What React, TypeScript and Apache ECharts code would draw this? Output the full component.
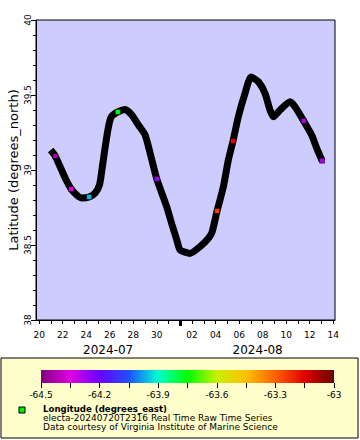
import React, { useEffect, useRef } from 'react';
import * as echarts from 'echarts';

// Glider track (time, latitude)
const trackTimes = [
  '2024-07-20T23:30:00Z', '2024-07-21T08:40:00Z', '2024-07-21T19:00:00Z', '2024-07-22T05:00:00Z',
  '2024-07-22T17:20:00Z', '2024-07-23T04:50:00Z', '2024-07-23T15:00:00Z', '2024-07-24T06:00:00Z',
  '2024-07-24T18:15:00Z', '2024-07-25T03:00:00Z', '2024-07-25T08:00:00Z', '2024-07-25T14:40:00Z',
  '2024-07-25T21:20:00Z', '2024-07-26T02:50:00Z', '2024-07-26T16:30:00Z', '2024-07-27T07:30:00Z',
  '2024-07-27T21:00:00Z', '2024-07-28T10:30:00Z', '2024-07-29T00:15:00Z', '2024-07-29T10:20:00Z',
  '2024-07-30T00:00:00Z', '2024-07-30T20:25:00Z', '2024-07-31T07:15:00Z', '2024-07-31T16:50:00Z',
  '2024-07-31T23:30:00Z', '2024-08-01T20:00:00Z', '2024-08-02T16:20:00Z', '2024-08-03T09:20:00Z',
  '2024-08-03T16:50:00Z', '2024-08-04T03:00:00Z', '2024-08-04T15:50:00Z', '2024-08-05T02:00:00Z',
  '2024-08-05T11:30:00Z', '2024-08-05T22:20:00Z', '2024-08-06T12:00:00Z', '2024-08-07T00:15:00Z',
  '2024-08-07T15:10:00Z', '2024-08-08T04:50:00Z', '2024-08-08T15:00:00Z', '2024-08-08T21:50:00Z',
  '2024-08-09T11:30:00Z', '2024-08-10T07:50:00Z', '2024-08-10T18:00:00Z', '2024-08-11T11:45:00Z',
  '2024-08-12T04:00:00Z', '2024-08-12T14:20:00Z', '2024-08-13T01:10:00Z',
];
const trackLats = [
  39.133, 39.093, 39.02, 38.947,
  38.873, 38.833, 38.813, 38.82,
  38.847, 38.9, 39.0, 39.153,
  39.287, 39.353, 39.387, 39.403,
  39.367, 39.3, 39.233, 39.113,
  38.94, 38.753, 38.633, 38.533,
  38.467, 38.444, 38.489, 38.545,
  38.587, 38.727, 38.889, 39.067,
  39.193, 39.355, 39.511, 39.62,
  39.589, 39.511, 39.4, 39.355,
  39.4, 39.455, 39.422, 39.327,
  39.233, 39.145, 39.062,
];

// Coloured samples (time, latitude, longitude)
const markerTimes = [
  '2024-07-21T08:40:00Z', '2024-07-22T17:20:00Z', '2024-07-24T06:00:00Z', '2024-07-26T16:30:00Z',
  '2024-07-30T00:00:00Z', '2024-08-04T03:00:00Z', '2024-08-05T11:30:00Z', '2024-08-11T11:45:00Z',
  '2024-08-13T01:10:00Z',
];
const markerLats = [39.093, 38.873, 38.82, 39.387, 38.94, 38.727, 39.193, 39.327, 39.062];
const markerLons = [-64.45, -64.35, -63.96, -63.75, -64.27, -63.25, -63.15, -64.29, -64.28];

// Axis / tick definitions
const latMin = 38;
const latMax = 40;
const latStep = 0.5;
const lonMin = -64.5;
const lonMax = -63;
const lonStep = 0.3;
const dayLabelDates = [
  '2024-07-20', '2024-07-22', '2024-07-24', '2024-07-26', '2024-07-28', '2024-07-30',
  '2024-08-02', '2024-08-04', '2024-08-06', '2024-08-08', '2024-08-10', '2024-08-12', '2024-08-14',
];
const monthBoundary = '2024-08-01';
const paletteColors = [
  '#800080', '#e000e0', '#6a00ff', '#2050ff', '#00ffd0', '#00ff00',
  '#c8f000', '#ffc000', '#ff6000', '#e00000', '#680000',
];
const yTitle = 'Latitude (degrees_north)';
const legendTitle = 'Longitude (degrees_east)';
const legendLine2 = 'electa-20240720T2316 Real Time Raw Time Series';
const legendLine3 = 'Data courtesy of Virginia Institute of Marine Science';

const DAY = 86400000;
const T0 = Date.UTC(2024, 6, 20);
const X_MIN = T0 - 0.27 * DAY;
const X_MAX = T0 + 25.15 * DAY;

const pad2 = (n: number) => String(n).padStart(2, '0');
const parseDay = (s: string) => Date.parse(s + 'T00:00:00Z');

export default function App() {
  const ref = useRef<HTMLDivElement>(null);

  useEffect(() => {
    if (!ref.current) return;
    const chart = echarts.init(ref.current, null, { renderer: 'svg' });

    const track = trackTimes.map((t, i) => [Date.parse(t), trackLats[i]]);
    const markers = markerTimes.map((t, i) => [Date.parse(t), markerLats[i], markerLons[i]]);

    const dayTicks: number[] = [];
    for (let t = T0; t <= X_MAX; t += DAY) dayTicks.push(t);
    const labelTicks = dayLabelDates.map(parseDay);
    const mb = parseDay(monthBoundary);
    const monthMids = [(X_MIN + mb) / 2, (mb + X_MAX) / 2];

    const fmtDay = (v: number) => pad2(new Date(v).getUTCDate());
    const fmtMonth = (v: number) => {
      const d = new Date(v);
      return d.getUTCFullYear() + '-' + pad2(d.getUTCMonth() + 1);
    };

    const black = { color: '#000' };
    const font = 'DejaVu Sans';

    const stops = paletteColors.map((c, i) => ({ offset: i / (paletteColors.length - 1), color: c }));

    chart.setOption({
      animation: false,
      backgroundColor: '#ffffff',
      textStyle: { fontFamily: font },
      grid: [
        {
          left: 36, top: 20, width: 299, height: 300, show: true, backgroundColor: '#ccccff',
          borderColor: '#000', borderWidth: 1, containLabel: false, outerBoundsMode: 'none',
        },
        { left: 41, top: 370, width: 293, height: 13, show: false, containLabel: false, outerBoundsMode: 'none' },
      ],
      xAxis: [
        {
          type: 'value', gridIndex: 0, min: X_MIN, max: X_MAX, position: 'bottom',
          axisLine: { show: true, lineStyle: black },
          axisTick: { show: true, customValues: dayTicks, length: 4, lineStyle: black },
          axisLabel: { customValues: labelTicks, formatter: fmtDay, fontSize: 9, color: '#000', margin: 10, fontFamily: font },
          splitLine: { show: false },
        },
        {
          type: 'value', gridIndex: 0, min: X_MIN, max: X_MAX, position: 'bottom',
          axisLine: { show: false },
          axisTick: { show: true, customValues: [mb], length: 6, lineStyle: { color: '#000', width: 3 } },
          axisLabel: { customValues: monthMids, formatter: fmtMonth, fontSize: 12, fontWeight: 'normal', color: '#000', margin: 24, fontFamily: font },
          splitLine: { show: false },
        },
        {
          type: 'value', gridIndex: 1, min: lonMin, max: lonMax, interval: lonStep, position: 'bottom',
          axisLine: { show: false },
          axisTick: { show: true, length: 5, lineStyle: black },
          minorTick: { show: true, splitNumber: 2, length: 5, lineStyle: black },
          axisLabel: { fontSize: 9, color: '#000', margin: 7, fontFamily: font },
          splitLine: { show: false },
          minorSplitLine: { show: false },
        },
      ],
      yAxis: [
        {
          type: 'value', gridIndex: 0, min: latMin, max: latMax, interval: latStep,
          name: yTitle, nameLocation: 'middle', nameGap: 16, nameMoveOverlap: false,
          nameTextStyle: { fontSize: 13, color: '#000', fontFamily: font },
          axisLine: { show: true, lineStyle: black },
          axisTick: { show: true, length: 5, lineStyle: black },
          minorTick: { show: true, splitNumber: 5, length: 3, lineStyle: black },
          axisLabel: { rotate: 90, fontSize: 9, color: '#000', margin: 4, fontFamily: font },
          splitLine: { show: false },
          minorSplitLine: { show: false },
        },
        { type: 'value', gridIndex: 1, show: false, min: 0, max: 1 },
      ],
      visualMap: {
        type: 'continuous', show: false, min: lonMin, max: lonMax, dimension: 2, seriesIndex: 1,
        inRange: { color: paletteColors },
      },
      series: [
        {
          type: 'line', xAxisIndex: 0, yAxisIndex: 0, data: track, showSymbol: false, smooth: 0.2, z: 2,
          lineStyle: { color: '#000', width: 7, cap: 'butt', join: 'round' }, silent: true,
        },
        {
          type: 'scatter', xAxisIndex: 0, yAxisIndex: 0, data: markers, symbol: 'rect', symbolSize: 5, z: 5,
          itemStyle: { borderColor: '#000', borderWidth: 0.5, opacity: 1 },
        },
      ],
      graphic: [
        {
          type: 'rect', z: -10, shape: { x: 1, y: 358, width: 357, height: 80 },
          style: { fill: '#ffffcc', stroke: '#000', lineWidth: 1 },
        },
        {
          type: 'rect', z: 1, shape: { x: 41, y: 370, width: 293, height: 13 },
          style: { fill: new echarts.graphic.LinearGradient(0, 0, 1, 0, stops) },
        },
        {
          type: 'rect', z: 1, shape: { x: 19, y: 407, width: 6, height: 6 },
          style: { fill: '#00ee00', stroke: '#000', lineWidth: 1 },
        },
        {
          type: 'text', z: 1, x: 43, y: 409.3,
          style: { text: legendTitle, fontSize: 8.6, fontWeight: 'bold', fontFamily: font, fill: '#000', verticalAlign: 'middle' },
        },
        {
          type: 'text', z: 1, x: 43, y: 418.3,
          style: { text: legendLine2, fontSize: 9, fontFamily: font, fill: '#000', verticalAlign: 'middle' },
        },
        {
          type: 'text', z: 1, x: 43, y: 427.4,
          style: { text: legendLine3, fontSize: 9, fontFamily: font, fill: '#000', verticalAlign: 'middle' },
        },
      ],
    });

    return () => chart.dispose();
  }, []);

  return (
    <div
      ref={ref}
      style={{ position: 'fixed', left: 0, top: 0, width: 360, height: 440, background: '#fff' }}
    />
  );
}
